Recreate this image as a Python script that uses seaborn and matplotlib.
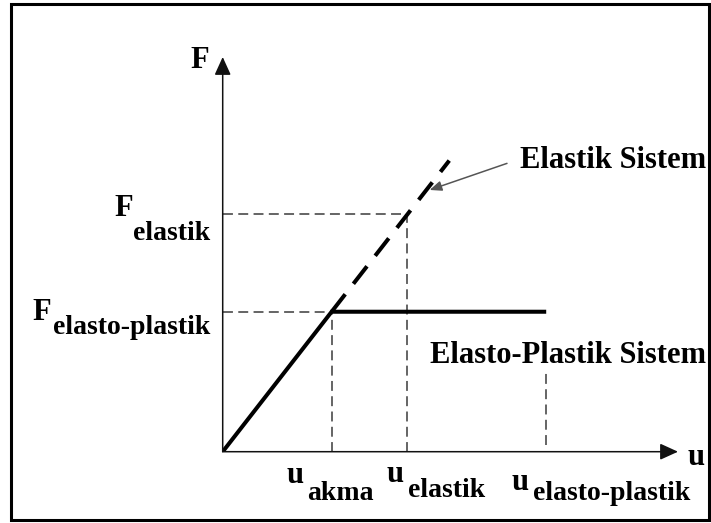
import matplotlib
matplotlib.use("Agg")
import matplotlib.pyplot as plt
from matplotlib.patches import Rectangle
import seaborn as sns
import pandas as pd

# ---- data (chart units: u_akma = 1, F_elasto-plastik = 1) ----
u_akma = 1.0
u_elastik = 1.69
u_elasto_plastik = 2.97
u_elastic_end = 2.08
F_elasto_plastik = 1.0
F_elastik = 1.70
F_elastic_end = 2.08
u_axis_max = 4.18
F_axis_max = 2.82
u_ep_guide_top = 0.58

ep_u = [0.0, u_akma, u_elasto_plastik]
ep_F = [0.0, F_elasto_plastik, F_elasto_plastik]
el_u = [u_akma, u_elastic_end]
el_F = [F_elasto_plastik, F_elastic_end]

sns.set_style("white")
plt.rcParams["font.family"] = ["Liberation Serif", "DejaVu Serif"]
plt.rcParams["font.weight"] = "bold"

W, H = 711, 523
fig = plt.figure(figsize=(W / 100, H / 100), dpi=100)
fig.patch.set_facecolor("white")

x0, y0 = 222.7, 451.7   # origin pixel
x1, y1 = 678.0, 57.0    # arrow tips pixel
ax = fig.add_axes([x0 / W, 1 - y0 / H, (x1 - x0) / W, (y0 - y1) / H])
ax.set_xlim(0, u_axis_max)
ax.set_ylim(0, F_axis_max)
for s in ax.spines.values():
    s.set_visible(False)
ax.set_xticks([])
ax.set_yticks([])
ax.patch.set_alpha(0)

guide = dict(color="#3a3a3a", lw=1.1, linestyle=(0, (6.5, 3.5)),
             estimator=None, sort=False, legend=False, ax=ax)

# dashed guide lines
sns.lineplot(x=[0, u_akma], y=[F_elasto_plastik, F_elasto_plastik], **guide)
sns.lineplot(x=[0, u_elastik], y=[F_elastik, F_elastik], **guide)
sns.lineplot(x=[u_akma, u_akma], y=[0, F_elasto_plastik], **guide)
sns.lineplot(x=[u_elastik, u_elastik], y=[0, F_elastik], **guide)
sns.lineplot(x=[u_elasto_plastik, u_elasto_plastik], y=[0.05, u_ep_guide_top], **guide)

# elastic system (dashed, thick)
sns.lineplot(x=el_u, y=el_F, color="black", lw=2.9, linestyle=(0, (5.5, 3.3)),
             estimator=None, sort=False, legend=False, ax=ax, dash_capstyle="butt")
# elasto-plastic system (solid, thick)
sns.lineplot(x=ep_u, y=ep_F, color="black", lw=2.9, estimator=None, sort=False,
             legend=False, ax=ax, solid_capstyle="butt", solid_joinstyle="miter")

# axes with arrowheads
arrow = dict(arrowstyle="-|>,head_length=0.55,head_width=0.25", color="#111111",
             lw=1.1, shrinkA=0, shrinkB=0, mutation_scale=20)
ax.annotate("", xy=(u_axis_max, 0), xytext=(0, 0), arrowprops=arrow, annotation_clip=False)
ax.annotate("", xy=(0, F_axis_max), xytext=(0, 0), arrowprops=arrow, annotation_clip=False)

# pointer for "Elastik Sistem"
ax.annotate("", xy=(1.90, 1.87), xytext=(2.61, 2.06),
            arrowprops=dict(arrowstyle="-|>,head_length=0.6,head_width=0.25",
                            color="#555555", lw=1.1, shrinkA=0, shrinkB=0,
                            mutation_scale=12),
            annotation_clip=False)


def txt(x, y, s, size=22):
    fig.text(x / W, 1 - y / H, s, ha="left", va="baseline", fontsize=size,
             fontweight="bold", color="black")


txt(190, 68, "F")
txt(688, 465, "u")
txt(114, 216.5, "F")
txt(133, 240, "elastik", 20)
txt(32, 320, "F")
txt(53, 334, "elasto-plastik", 20)
txt(287, 483, "u")
txt(307, 500, "akma", 20)
txt(387, 481.5, "u")
txt(408, 497, "elastik", 20)
txt(512, 490.5, "u")
txt(533, 499.5, "elasto-plastik", 20)
txt(520, 168, "Elastik Sistem")
txt(430, 363, "Elasto-Plastik Sistem")

# outer frame
fig.add_artist(Rectangle((10.5 / W, 1 - 520 / H), (708.5 - 10.5) / W, (520 - 4) / H,
                         transform=fig.transFigure, fill=False, lw=2.2, ec="black"))

fig.savefig("out.png", dpi=100)
